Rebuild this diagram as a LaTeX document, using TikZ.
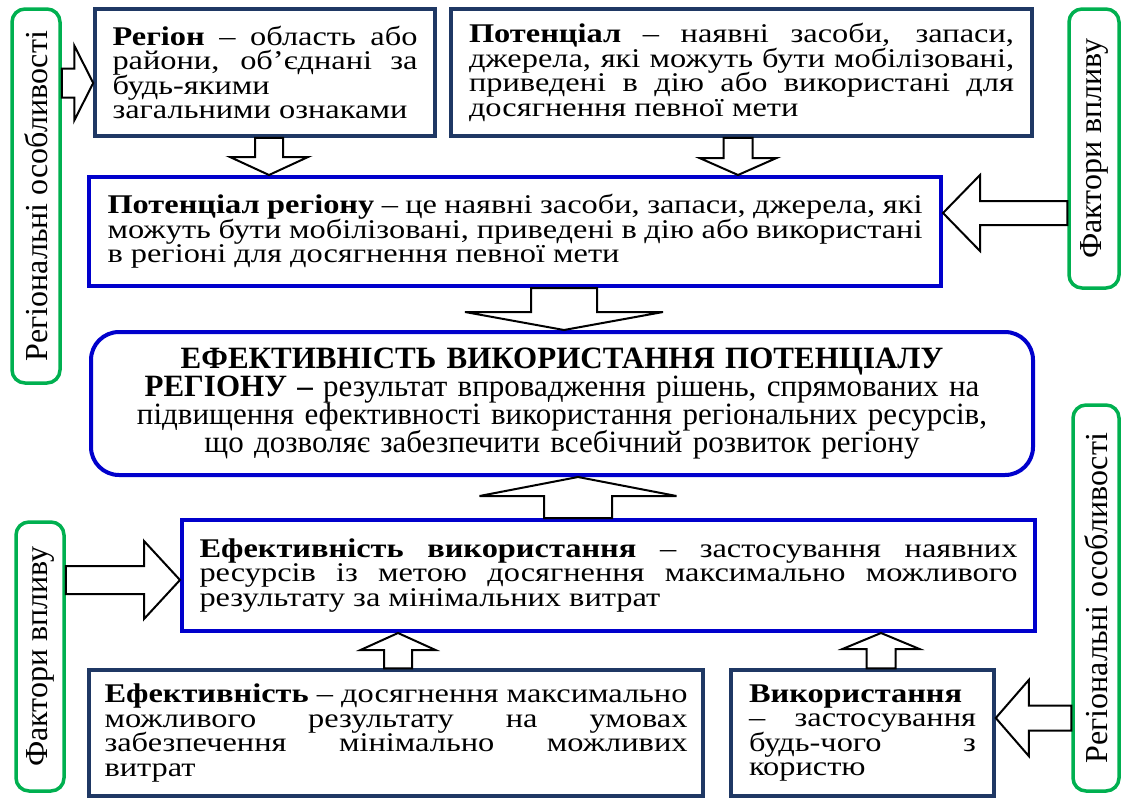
\documentclass[tikz,border=0pt]{standalone}
\usepackage{fontspec}
\setmainfont{Liberation Serif}
\newfontfamily\sidefont{Liberation Serif}[FakeStretch=1.2]
\usetikzlibrary{calc}

\definecolor{greenline}{RGB}{0, 176, 80}
\definecolor{navyline}{RGB}{31, 56, 100}
\definecolor{blueline}{RGB}{0, 0, 204}

\newcommand{\sidetext}{\sidefont\fontsize{27}{24.5}\selectfont\lineskiplimit=-50pt}
\newcommand{\midtext}{\fontsize{31}{28}\selectfont\lineskiplimit=-50pt}
\newcommand{\verttext}{\fontsize{32}{32}\selectfont}
\newcommand{\jl}[1]{\makebox[\hsize][s]{\spaceskip=.25em plus 1fil minus .05em\relax #1}\\}

% block arrow: tail, tip, shaft half width, head half width, head length
\newcommand{\blockarrow}[5]{%
  \coordinate (bn) at ($(#2)!#5!(#1)$);
  \draw[barrow] ($(#1)!#3!90:(#2)$) -- ($(bn)!#3!90:(#2)$) -- ($(bn)!#4!90:(#2)$) -- (#2)
    -- ($(bn)!#4!-90:(#2)$) -- ($(bn)!#3!-90:(#2)$) -- ($(#1)!#3!-90:(#2)$) -- cycle;
}

\tikzset{
  navybox/.style={draw=navyline, line width=3.5pt, fill=white, inner sep=0pt, align=justify, font=\sidetext},
  bluebox/.style={draw=blueline, line width=4pt, fill=white, inner sep=0pt, align=justify, font=\sidetext},
  greenbox/.style={draw=greenline, line width=3.5pt, rounded corners=13pt, inner sep=0pt, rotate=90, font=\verttext},
  barrow/.style={draw=black, line width=2pt, fill=white, line join=miter}
}

\begin{document}
\begin{tikzpicture}[x=1pt, y=-1pt]
  \useasboundingbox (0,0) rectangle (1123,798);

  % Side labels
  \node[greenbox, minimum width=374, minimum height=48] (g1) at (36, 196) {Регіональні особливості};
  \node[greenbox, minimum width=279, minimum height=50] (g2) at (1094, 148.5) {Фактори впливу};
  \node[greenbox, minimum width=269, minimum height=48] (g3) at (40, 656.5) {Фактори впливу};
  \node[greenbox, minimum width=386, minimum height=46] (g4) at (1096, 598) {Регіональні особливості};

  % Top definitions
  \node[navybox, minimum width=340, minimum height=127, text width=305] (reg) at (265, 72.5) {
    \jl{\textbf{Регіон} – область або}
    \jl{райони, об’єднані за}
    будь-якими\\
    загальними ознаками};
  \node[navybox, minimum width=581, minimum height=127, text width=545] (pot) at (741.5, 72.5) {
    \jl{\textbf{Потенціал} – наявні засоби, запаси,}
    \jl{джерела, які можуть бути мобілізовані,}
    \jl{приведені в дію або використані для}
    досягнення певної мети};
  \node[bluebox, minimum width=852, minimum height=109, text width=815] (potreg) at (515, 231.5) {
    \jl{\textbf{Потенціал регіону} – це наявні засоби, запаси, джерела, які}
    \jl{можуть бути мобілізовані, приведені в дію або використані}
    в регіоні для досягнення певної мети};

  % Centre
  \node[bluebox, rounded corners=28pt, align=center, font=\midtext, minimum width=942, minimum height=143, text width=930] (mid) at (562, 403.5) {
    \textbf{ЕФЕКТИВНІСТЬ ВИКОРИСТАННЯ ПОТЕНЦІАЛУ}\\
    \textbf{РЕГІОНУ –} результат впровадження рішень, спрямованих на\\
    підвищення ефективності використання регіональних ресурсів,\\
    що дозволяє забезпечити всебічний розвиток регіону};

  % Bottom definitions
  \node[bluebox, minimum width=853, minimum height=111, text width=818] (effuse) at (608.5, 575.5) {
    \jl{\textbf{Ефективність використання} – застосування наявних}
    \jl{ресурсів із метою досягнення максимально можливого}
    результату за мінімальних витрат};
  \node[navybox, minimum width=614, minimum height=126, text width=583] (eff) at (396, 733) {
    \jl{\textbf{Ефективність} – досягнення максимально}
    \jl{можливого результату на умовах}
    \jl{забезпечення мінімально можливих}
    витрат};
  \node[navybox, minimum width=263, minimum height=126, text width=227] (use) at (862.5, 733) {
    \textbf{Використання}\\
    \jl{– застосування}
    \jl{будь-чого з}
    користю};

  % Arrows
  \coordinate (t1) at ($(reg.west)+(0,10.5)$);
  \blockarrow{g1.south |- t1}{t1}{14.5pt}{37.5pt}{19pt}
  \coordinate (t2) at ($(reg.south)+(4,0)$);
  \blockarrow{t2}{t2 |- potreg.north}{14pt}{39pt}{18pt}
  \coordinate (t3) at ($(pot.south)+(-3.5,0)$);
  \blockarrow{t3}{t3 |- potreg.north}{14.5pt}{38.5pt}{17pt}
  \coordinate (t4) at ($(potreg.east)+(0,-18.5)$);
  \blockarrow{g2.north |- t4}{t4}{12pt}{38pt}{37pt}
  \coordinate (t5) at ($(mid.north)+(2,0)$);
  \blockarrow{t5 |- potreg.south}{t5}{33pt}{99pt}{18pt}
  \coordinate (t6) at ($(mid.south)+(16,0)$);
  \blockarrow{t6 |- effuse.north}{t6}{34pt}{98.5pt}{19pt}
  \coordinate (t7) at ($(effuse.west)+(0,4.5)$);
  \blockarrow{g3.south |- t7}{t7}{14pt}{39pt}{36pt}
  \coordinate (t8) at ($(eff.north)+(2,0)$);
  \blockarrow{t8}{t8 |- effuse.south}{14pt}{37.5pt}{17pt}
  \coordinate (t9) at ($(use.north)+(18.5,0)$);
  \blockarrow{t9}{t9 |- effuse.south}{14.5pt}{38.5pt}{16pt}
  \coordinate (t10) at ($(use.east)+(0,-15)$);
  \blockarrow{g4.north |- t10}{t10}{12.5pt}{38pt}{33pt}
\end{tikzpicture}
\end{document}
